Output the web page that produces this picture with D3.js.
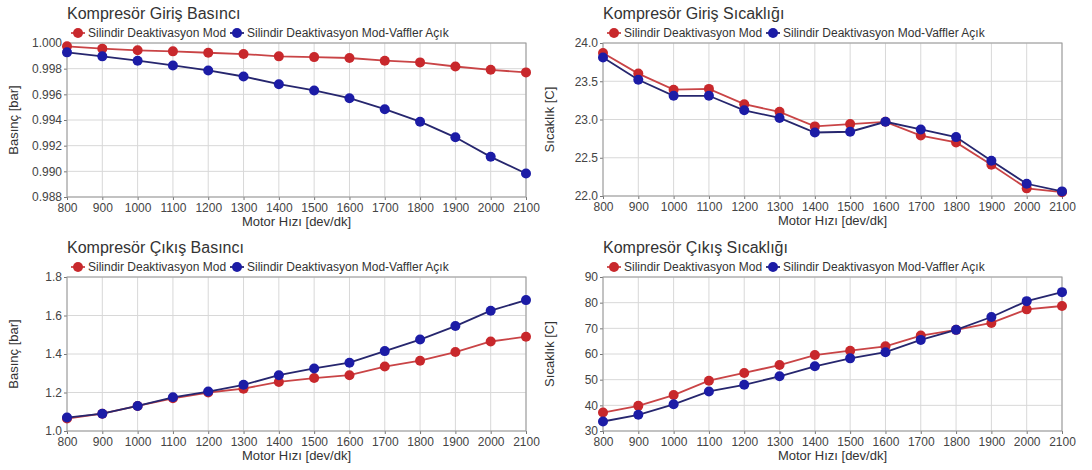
<!DOCTYPE html>
<html>
<head>
<meta charset="utf-8">
<script src="https://cdn.jsdelivr.net/npm/d3@7"></script>
<style>
  body { margin: 0; background: #fff; }
  text { font-family: "Liberation Sans", Arial, sans-serif; }
</style>
</head>
<body>
<script>
var width = 1092,
    height = 470;

// motor speed [dev/dk]
var rpm = [800, 900, 1000, 1100, 1200, 1300, 1400, 1500, 1600, 1700, 1800, 1900, 2000, 2100];

var seriesNames = ["Silindir Deaktivasyon Mod", "Silindir Deaktivasyon Mod-Vaffler Açık"];

var girisBasinciMod  = [0.99974, 0.99956, 0.99943, 0.99935, 0.99924, 0.99914, 0.99896, 0.99890, 0.99883, 0.99862, 0.99849, 0.99817, 0.99791, 0.99771];
var girisBasinciValf = [0.99927, 0.99896, 0.99862, 0.99825, 0.99786, 0.99739, 0.99679, 0.99630, 0.99570, 0.99484, 0.99387, 0.99265, 0.99113, 0.98983];

var girisSicakligiMod  = [23.87, 23.60, 23.39, 23.40, 23.20, 23.10, 22.91, 22.94, 22.97, 22.79, 22.70, 22.41, 22.10, 22.05];
var girisSicakligiValf = [23.81, 23.52, 23.31, 23.31, 23.12, 23.02, 22.83, 22.84, 22.97, 22.87, 22.77, 22.46, 22.16, 22.06];

var cikisBasinciMod  = [1.065, 1.09, 1.13, 1.17, 1.20, 1.22, 1.255, 1.275, 1.29, 1.335, 1.365, 1.41, 1.465, 1.49];
var cikisBasinciValf = [1.07, 1.09, 1.13, 1.175, 1.205, 1.24, 1.29, 1.325, 1.355, 1.415, 1.475, 1.545, 1.625, 1.68];

var cikisSicakligiMod  = [37.2, 39.8, 44.0, 49.6, 52.6, 55.7, 59.6, 61.3, 63.0, 67.2, 69.4, 72.1, 77.4, 78.7];
var cikisSicakligiValf = [33.7, 36.3, 40.4, 45.4, 48.0, 51.3, 55.2, 58.3, 60.7, 65.5, 69.4, 74.4, 80.6, 84.1];

var ticksGirisBasinci = [0.988, 0.990, 0.992, 0.994, 0.996, 0.998, 1.000];
var ticksGirisSicaklik = [22.0, 22.5, 23.0, 23.5, 24.0];
var ticksCikisBasinci = [1.0, 1.2, 1.4, 1.6, 1.8];
var ticksCikisSicaklik = [30, 40, 50, 60, 70, 80, 90];

var colors = ["#c8282c", "#1c1ca6"],
    lineColors = ["#c94446", "#26266e"];

var svg = d3.select("body").append("svg")
    .attr("width", width)
    .attr("height", height);

var panels = [
  {title: "Kompresör Giriş Basıncı", ylabel: "Basınç [bar]", data: [girisBasinciMod, girisBasinciValf],
   ticks: ticksGirisBasinci, fmt: ".3f", x0: 67, x1: 526, y0: 43, y1: 197},
  {title: "Kompresör Giriş Sıcaklığı", ylabel: "Sıcaklık [C]", data: [girisSicakligiMod, girisSicakligiValf],
   ticks: ticksGirisSicaklik, fmt: ".1f", x0: 603, x1: 1062, y0: 43, y1: 196},
  {title: "Kompresör Çıkış Basıncı", ylabel: "Basınç [bar]", data: [cikisBasinciMod, cikisBasinciValf],
   ticks: ticksCikisBasinci, fmt: ".1f", x0: 67, x1: 526, y0: 277, y1: 431},
  {title: "Kompresör Çıkış Sıcaklığı", ylabel: "Sıcaklık [C]", data: [cikisSicakligiMod, cikisSicakligiValf],
   ticks: ticksCikisSicaklik, fmt: "d", x0: 603, x1: 1062, y0: 277, y1: 431}
];

panels.forEach(function(p) {
  var x = d3.scaleLinear().domain([800, 2100]).range([p.x0, p.x1]);
  var y = d3.scaleLinear().domain(d3.extent(p.ticks)).range([p.y1, p.y0]);
  var g = svg.append("g");

  // grid
  g.append("g").selectAll("line.v")
    .data(rpm).enter().append("line")
      .attr("x1", function(d) { return x(d); }).attr("x2", function(d) { return x(d); })
      .attr("y1", p.y0).attr("y2", p.y1)
      .attr("stroke", "#d8d8d8");
  g.append("g").selectAll("line.h")
    .data(p.ticks).enter().append("line")
      .attr("x1", p.x0).attr("x2", p.x1)
      .attr("y1", function(d) { return y(d); }).attr("y2", function(d) { return y(d); })
      .attr("stroke", "#d8d8d8");

  // axes
  var xAxis = g.append("g")
      .attr("transform", "translate(0," + p.y1 + ")")
      .call(d3.axisBottom(x).tickValues(rpm).tickFormat(d3.format("d")).tickSize(3).tickPadding(3));
  var yAxis = g.append("g")
      .attr("transform", "translate(" + p.x0 + ",0)")
      .call(d3.axisLeft(y).tickValues(p.ticks).tickFormat(d3.format(p.fmt)).tickSize(3).tickPadding(2));
  [xAxis, yAxis].forEach(function(a) {
    a.select(".domain").remove();
    a.selectAll("line").attr("stroke", "#777");
    a.selectAll("text").attr("fill", "#444").style("font-size", "12px");
  });

  g.append("rect")
      .attr("x", p.x0).attr("y", p.y0)
      .attr("width", p.x1 - p.x0).attr("height", p.y1 - p.y0)
      .attr("fill", "none").attr("stroke", "#999");

  // series
  p.data.forEach(function(vals, i) {
    var pts = rpm.map(function(r, j) { return [r, vals[j]]; });
    var line = d3.line().x(function(d) { return x(d[0]); }).y(function(d) { return y(d[1]); });
    g.append("path").datum(pts)
        .attr("d", line).attr("fill", "none")
        .attr("stroke", lineColors[i]).attr("stroke-width", 1.8);
    g.append("g").selectAll("circle")
      .data(pts).enter().append("circle")
        .attr("cx", function(d) { return x(d[0]); })
        .attr("cy", function(d) { return y(d[1]); })
        .attr("r", 5)
        .attr("fill", colors[i]);
  });

  // title
  g.append("text")
      .attr("x", p.x0).attr("y", p.y0 - 24)
      .attr("fill", "#333").style("font-size", "16px")
      .text(p.title);

  // legend
  var lx = [p.x0 + 4, p.x0 + 163];
  seriesNames.forEach(function(name, i) {
    var ly = p.y0 - 10;
    g.append("line")
        .attr("x1", lx[i]).attr("x2", lx[i] + 14)
        .attr("y1", ly).attr("y2", ly)
        .attr("stroke", lineColors[i]).attr("stroke-width", 1.8);
    g.append("circle")
        .attr("cx", lx[i] + 7).attr("cy", ly).attr("r", 5)
        .attr("fill", colors[i]);
    g.append("text")
        .attr("x", lx[i] + 17).attr("y", ly + 4)
        .attr("fill", "#333").style("font-size", "12px")
        .text(name);
  });

  // axis labels
  g.append("text")
      .attr("x", (p.x0 + p.x1) / 2).attr("y", p.y1 + 29)
      .attr("text-anchor", "middle")
      .attr("fill", "#333").style("font-size", "13px")
      .text("Motor Hızı [dev/dk]");
  g.append("text")
      .attr("transform", "translate(" + (p.x0 - 49) + "," + ((p.y0 + p.y1) / 2) + ")rotate(-90)")
      .attr("text-anchor", "middle")
      .attr("fill", "#333").style("font-size", "13px")
      .text(p.ylabel);
});
</script>
</body>
</html>
